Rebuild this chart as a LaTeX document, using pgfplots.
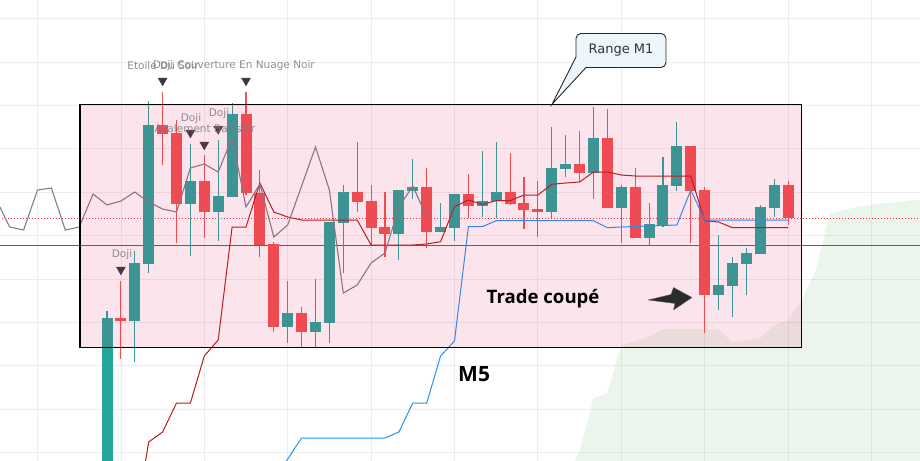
\documentclass[border=0pt]{standalone}
\usepackage{pgfplots}
\pgfplotsset{compat=1.18}
\usepackage{pgfplotstable}
\usepackage{fontspec}
\setmainfont{DejaVu Sans}
\newfontfamily\opensans{Open Sans}
\definecolor{cteal}{HTML}{26A69A}
\definecolor{cred}{HTML}{EF5350}
\definecolor{kijun}{HTML}{B71C1C}
\definecolor{tenkan}{HTML}{2196F3}
\definecolor{lagc}{HTML}{808089}
\definecolor{crim}{HTML}{D6245E}
\definecolor{dotred}{HTML}{F23645}
\definecolor{cloudg}{HTML}{43A047}
\definecolor{boxpink}{HTML}{E91E63}
\definecolor{callbg}{HTML}{EDF5FD}
\definecolor{trig}{HTML}{3A3A3A}
\definecolor{labg}{HTML}{787B86}
\definecolor{arrowc}{HTML}{2B2B2B}

% candles, prices in screen units (larger = lower)
\pgfplotstableread{
i o h l c
0 520 311 540 318
2 321 251 362 263
3 264 101 273 125
6 204 144 256 181
8 212 140 241 196
9 197 103 197 114
13 327 281 343 313
15 332 279 347 322
16 323 222 343 222
17 223 185 273 192
21 234 190 260 190
22 191 159 199 187
24 232 203 232 227
25 228 194 241 194
27 206 151 217 201
28 201 142 218 192
32 212 127 218 168
33 169 135 177 164
35 173 107 199 138
37 208 185 243 187
39 238 203 245 224
40 225 157 227 185
41 186 122 191 146
44 295 235 310 285
45 286 257 317 263
46 264 248 295 253
47 254 205 254 207
48 208 179 217 185
}\bull
\pgfplotstableread{
i o h l c
1 318 281 359 321
4 125 92 165 134
5 133 120 243 204
7 181 155 238 212
10 114 92 195 193
11 193 170 257 245
12 244 242 332 327
14 313 307 348 332
18 192 142 212 202
19 201 185 245 228
20 227 192 257 234
23 187 168 248 232
26 194 174 218 206
29 192 153 205 204
30 203 177 229 210
31 209 181 237 212
34 164 131 182 173
36 138 109 208 208
38 187 168 238 238
42 146 146 243 191
43 190 187 333 295
49 185 181 225 218
}\bear

\begin{document}
\begin{tikzpicture}
\begin{axis}[name=ax, width=920pt, height=461pt, scale only axis,
  xmin=-7.698, xmax=58.49, ymin=0, ymax=461, y dir=reverse,
  xtick={-5,1,7,13,19,25,31,37,43,49,55},
  ytick={18.5,61.9,105.3,148.7,192.1,235.5,278.9,322.3,365.7,409.1,452.5},
  xticklabels={}, yticklabels={},
  grid=major, grid style={color=black!7, line width=0.8pt},
  axis line style={draw=none}, tick style={draw=none},
  clip=true]
% cloud
\addplot[draw=none, fill=cloudg, fill opacity=0.1, forget plot] coordinates {
 (32,520) (33,475) (34,452) (35,398) (36,393) (37,345) (38,341) (39,337)
 (40,329) (41,329) (42,329) (43,329) (44,330) (45,342) (46,340) (47,338)
 (48,325) (49,320) (50,300) (51,270) (52,213) (53,210) (54,207) (55,205)
 (56,203) (57,202) (58,200) (59,200) (59,520)} -- cycle;
% horizontal lines
\addplot[crim, line width=0.9pt, forget plot] coordinates {(-8,245) (60,245)};
\addplot[dotred, line width=0.9pt, dash pattern=on 1pt off 2pt, forget plot] coordinates {(-8,218.3) (60,218.3)};
% wicks
\addplot[draw=none, mark=none, forget plot, error bars/.cd, y dir=both, y explicit, error mark=none,
  error bar style={draw=cteal, line width=1.1pt}]
  table[x=i, y expr={(\thisrow{h}+\thisrow{l})/2}, y error expr={abs(\thisrow{l}-\thisrow{h})/2}] {\bull};
\addplot[draw=none, mark=none, forget plot, error bars/.cd, y dir=both, y explicit, error mark=none,
  error bar style={draw=cred, line width=1.1pt}]
  table[x=i, y expr={(\thisrow{h}+\thisrow{l})/2}, y error expr={abs(\thisrow{l}-\thisrow{h})/2}] {\bear};
% bodies
\addplot[draw=none, mark=none, forget plot, error bars/.cd, y dir=both, y explicit, error mark=none,
  error bar style={draw=cteal, line width=11pt}]
  table[x=i, y expr={(\thisrow{o}+\thisrow{c})/2}, y error expr={max(abs(\thisrow{c}-\thisrow{o})/2,1)}] {\bull};
\addplot[draw=none, mark=none, forget plot, error bars/.cd, y dir=both, y explicit, error mark=none,
  error bar style={draw=cred, line width=11pt}]
  table[x=i, y expr={(\thisrow{o}+\thisrow{c})/2}, y error expr={max(abs(\thisrow{c}-\thisrow{o})/2,1)}] {\bear};
% base line (dark red)
\addplot[kijun, line width=1pt, forget plot] coordinates {
 (2,526) (3,442) (4,432) (5,403) (6,403) (7,356) (8,340) (9,227) (10,227)
 (11,183) (12,212) (13,217) (14,220) (15,220) (16,220) (17,220) (18,220)
 (19,245) (20,245) (21,245) (22,245) (23,244) (24,241.7) (25,206.7) (26,200)
 (27,204.3) (28,200.7) (29,200.7) (30,195) (31,195) (32,184.3) (33,183)
 (34,182) (35,172) (36,172) (37,175) (38,176) (39,176) (40,176) (41,176)
 (42,176) (43,220.7) (44,222) (45,227.7) (46,227.7) (47,227.7) (48,227.7) (49,227.7)};
% conversion line (blue)
\addplot[tenkan, line width=1pt, forget plot] coordinates {
 (12,480) (13,459) (14,438) (15,438) (16,438) (17,438) (18,438) (19,438)
 (20,438) (21,432) (22,403) (23,403) (24,356) (25,341) (26,226.7) (27,226.7)
 (28,220.7) (29,220.7) (30,220.7) (31,220.7) (32,220.7) (33,220.7) (34,220.7)
 (35,220.7) (36,227.7) (37,227) (38,226.5) (39,226) (40,225.5) (41,225)
 (42,190) (43,220) (44,220) (45,220) (46,220) (47,220) (48,220) (49,220)};
% lagging line (gray)
\addplot[lagc, line width=1.1pt, forget plot] coordinates {
 (-8,199) (-7,227) (-6,230) (-5,190) (-4,188) (-3,230) (-2,227) (-1,194)
 (0,205) (1,201) (2,192) (3,202) (4,209) (5,212) (6,168) (7,164) (8,172)
 (9,138) (10,207) (11,184) (12,237) (13,225) (14,186) (15,147) (16,190)
 (17,293) (18,285) (19,263) (20,253) (21,207) (22,186) (23,217)};
% pattern markers
\addplot[only marks, mark=triangle*, mark size=5.2pt, forget plot,
  mark options={rotate=180, fill=trig, draw=trig}] coordinates {
 (1,269.6) (4,80.6) (6,132.6) (7,144.6) (8,129) (10,80.6)};
\end{axis}
% annotations in screen pixels
\begin{scope}[shift={(ax.north west)}, x=1pt, y=-1pt]
 \fill[boxpink, fill opacity=0.12] (80,104.3) rectangle (801.5,347.7);
 \draw[black, line width=1.1pt] (80,104.3) rectangle (801.5,347.7);
 % pattern labels
 \begin{scope}[every node/.style={text=labg, font=\fontsize{10.5}{12}\selectfont, inner sep=0pt, text opacity=0.85}]
  \node at (163,65.5) {Etoile Du Soir};
  \node at (163,65.5) {Doji};
  \node at (246,65.5) {Couverture En Nuage Noir};
  \node at (191,118.5) {Doji};
  \node at (205,129) {Avalement Baissier};
  \node at (219,114) {Doji};
  \node at (122,255) {Doji};
 \end{scope}
 % callout
 \draw[fill=callbg, line width=0.9pt, draw=black!85, rounded corners=5pt] (576,33.5) rectangle (666,67.5);
 \fill[callbg] (576.4,57) -- (552,104.3) -- (586,67.1) -- cycle;
 \draw[line width=0.9pt, draw=black!85, line join=miter] (576,57) -- (552,104.3) -- (586,67.5);
 \node[font=\fontsize{13}{15}\selectfont, text=black!80] at (621,50.5) {Range M1};
 % texts
 \node[anchor=base west, inner sep=0pt, font=\opensans\bfseries\fontsize{18.6}{20}\selectfont] at (486.5,304) {Trade coupé};
 \node[anchor=base west, inner sep=0pt, font=\opensans\bfseries\fontsize{21}{23}\selectfont] at (458,382) {M5};
 % arrow
 \fill[arrowc, draw=black!60, line width=0.4pt, line join=round] (648,300) -- (671,294.5) -- (673.5,287.5) -- (692,297.5) -- (673.5,310) -- (675,303.5) -- cycle;
\end{scope}
\pgfresetboundingbox
\path[use as bounding box] (ax.south west) rectangle (ax.north east);
\end{tikzpicture}
\end{document}
